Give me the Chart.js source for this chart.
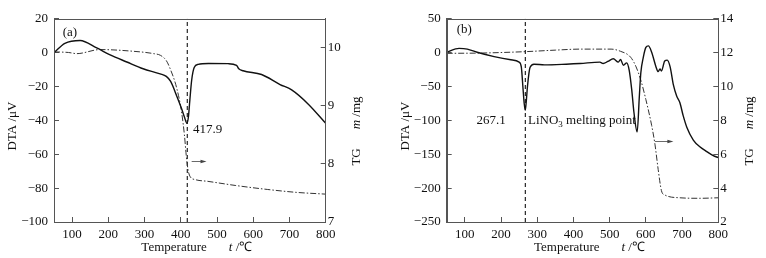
<!DOCTYPE html>
<html lang="en">
<head>
<meta charset="UTF-8">
<title>DTA / TG curves</title>
<script src="https://cdn.jsdelivr.net/npm/chart.js"></script>
<style>
  body { margin: 0; background: #fff; }
  .panel { position: absolute; top: 0; width: 383px; height: 258px; }
</style>
</head>
<body>
<div class="panel" style="left:0"><canvas id="chartA" width="383" height="258"></canvas></div>
<div class="panel" style="left:383px"><canvas id="chartB" width="383" height="258"></canvas></div>

<script>
// ---- data ----
const xTicks = [100, 200, 300, 400, 500, 600, 700, 800];

// (a)
const tempDtaA = [50, 80, 122, 168, 205, 251, 296, 343, 360, 372, 389, 402, 410, 417, 421, 425, 430, 437, 448, 476, 531, 554, 560, 572, 623, 674, 706, 752, 800];
const dtaA     = [0, 5.5, 7.2, 2.8, -1.3, -5.5, -9.5, -12.5, -14, -17, -25.7, -33, -38, -41.7, -38, -28, -16.3, -8.8, -6.9, -6.4, -6.5, -7.5, -9.5, -10.7, -12.9, -18.8, -22, -30.4, -41.7];
const tempTgA  = [50, 90, 113, 177, 270, 325, 344, 360, 370, 389, 402, 410, 415, 420, 426, 440, 475, 550, 640, 720, 800];
const tgA      = [9.93, 9.92, 9.9, 9.97, 9.94, 9.9, 9.87, 9.78, 9.65, 9.3, 8.9, 8.5, 8.15, 7.9, 7.78, 7.73, 7.7, 7.63, 7.56, 7.51, 7.48];
const meltA = 417.9;
const dtaTicksA = [-100, -80, -60, -40, -20, 0, 20];
const tgTicksA  = [7, 8, 9, 10];

// (b)
const tempDtaB = [50, 84, 107, 134, 181, 227, 250, 256, 261, 264, 267, 270, 273, 280, 291, 320, 380, 418, 473, 482, 495, 510, 524, 530, 538, 547, 554, 561, 567, 576, 582, 586, 593, 600, 607, 616, 628, 634, 639, 643, 652, 659, 667, 676, 685, 694, 703, 713, 731, 749, 768, 786, 800];
const dtaB     = [0.6, 6.3, 5.3, 0.6, -5.8, -10.5, -13.9, -21, -55, -75, -85, -70, -50, -22, -17, -18, -17, -16, -13.9, -16, -13, -9, -13.9, -10, -18.7, -15, -26, -55, -88, -117, -64, -30, -6.6, 7.8, 10, 0.6, -21, -28, -24, -27, -12.4, -11, -21, -47.6, -64, -74, -93, -110, -129, -139, -146, -152, -155];
const tempTgB  = [50, 150, 267, 350, 420, 504, 530, 558, 573, 586, 600, 616, 625, 634, 643, 652, 694, 750, 800];
const tgB      = [11.96, 11.98, 12.06, 12.15, 12.21, 12.21, 12.08, 11.73, 11.16, 10.38, 9.23, 7.7, 6.6, 5.1, 3.85, 3.6, 3.43, 3.4, 3.43];
const meltB = 267.1;
const dtaTicksB = [-250, -200, -150, -100, -50, 0, 50];
const tgTicksB  = [2, 4, 6, 8, 10, 12, 14];

const SERIF = "'Liberation Serif', 'Times New Roman', serif";
const INK = '#111';
const FRAME = '#555';

function pts(xs, ys) {
  return xs.map((x, i) => ({ x: x, y: ys[i] }));
}

function fmt(v) {
  return String(v).replace('-', '\u2212');
}

// draws a row of text pieces (mixed italic / subscript)
function drawRuns(ctx, runs, x, y, align) {
  const widths = runs.map(r => {
    if (r.gap) return r.gap;
    ctx.font = (r.italic ? 'italic ' : '') + (r.size || 13) + 'px ' + SERIF;
    return ctx.measureText(r.text).width;
  });
  const total = widths.reduce((a, b) => a + b, 0);
  let cx = align === 'center' ? x - total / 2 : align === 'right' ? x - total : x;
  runs.forEach((r, i) => {
    if (!r.gap) {
      ctx.font = (r.italic ? 'italic ' : '') + (r.size || 13) + 'px ' + SERIF;
      ctx.textAlign = 'left';
      ctx.fillText(r.text, cx, y + (r.dy || 0));
    }
    cx += widths[i];
  });
}

const decor = {
  id: 'decor',
  afterDatasetsDraw(chart, args, o) {
    const { ctx, chartArea: a, scales } = chart;
    const sx = scales.x;
    ctx.save();

    // frame
    ctx.strokeStyle = FRAME;
    ctx.lineWidth = 1;
    ctx.strokeRect(Math.round(a.left) + 0.5, Math.round(a.top) + 0.5,
                   Math.round(a.right - a.left) - 1, Math.round(a.bottom - a.top));

    ctx.fillStyle = INK;
    ctx.textBaseline = 'middle';

    // panel tag
    drawRuns(ctx, [{ text: o.tag }], sx.getPixelForValue(o.tagAt[0]), scales.yL.getPixelForValue(o.tagAt[1]), 'left');

    // notes
    o.notes.forEach(n => {
      drawRuns(ctx, n.runs, sx.getPixelForValue(n.x), scales.yL.getPixelForValue(n.y), n.align);
    });

    // arrow pointing to the TG axis
    const ar = o.arrow;
    const ay = Math.round(scales.yR.getPixelForValue(ar.y)) + 0.5;
    const ax1 = sx.getPixelForValue(ar.x1), ax2 = sx.getPixelForValue(ar.x2);
    ctx.strokeStyle = '#444';
    ctx.lineWidth = 0.8;
    ctx.beginPath();
    ctx.moveTo(ax1, ay);
    ctx.lineTo(ax2 - 4, ay);
    ctx.stroke();
    ctx.fillStyle = '#444';
    ctx.beginPath();
    ctx.moveTo(ax2, ay);
    ctx.lineTo(ax2 - 6, ay - 1.8);
    ctx.lineTo(ax2 - 6, ay + 1.8);
    ctx.closePath();
    ctx.fill();

    ctx.fillStyle = INK;
    // left title
    ctx.save();
    ctx.translate(a.left - 41, 126);
    ctx.rotate(-Math.PI / 2);
    drawRuns(ctx, [{ text: 'DTA /\u03bcV' }], 0, 0, 'center');
    ctx.restore();

    // right title (reads bottom to top)
    ctx.save();
    ctx.translate(a.right + 31, 131);
    ctx.rotate(-Math.PI / 2);
    drawRuns(ctx, [{ text: 'TG' }, { gap: 19 }, { text: 'm', italic: true }, { text: ' /mg' }], 0, 0, 'center');
    ctx.restore();

    // x title
    ctx.textBaseline = 'alphabetic';
    drawRuns(ctx, [{ text: 'Temperature' }, { gap: 22 }, { text: 't', italic: true }, { text: ' /\u2103' }],
             (a.left + a.right) / 2 + 7, a.bottom + 29, 'center');

    ctx.restore();
  }
};

const gridOpts = { drawOnChartArea: false, color: FRAME, tickLength: -5, tickWidth: 1 };
const borderOpts = { display: true, color: FRAME, width: 1 };
const tickFont = { family: SERIF, size: 13 };

function fixedTicks(list) {
  return s => { s.ticks = list.map(v => ({ value: v })); };
}

function buildChart(id, p) {
  return new Chart(document.getElementById(id), {
    type: 'line',
    data: {
      datasets: [
        {
          label: 'DTA', data: pts(p.tDta, p.dta), yAxisID: 'yL',
          borderColor: INK, borderWidth: 1.4, pointRadius: 0, cubicInterpolationMode: 'monotone'
        },
        {
          label: 'TG', data: pts(p.tTg, p.tg), yAxisID: 'yR',
          borderColor: '#333', borderWidth: 1, borderDash: [6, 2, 1.5, 2], pointRadius: 0, cubicInterpolationMode: 'monotone'
        },
        {
          label: 'melting', data: [{ x: p.melt, y: p.dtaTicks[0] }, { x: p.melt, y: p.dtaTicks[p.dtaTicks.length - 1] }],
          yAxisID: 'yL', borderColor: INK, borderWidth: 1.1, borderDash: [4, 3], pointRadius: 0
        }
      ]
    },
    options: {
      responsive: false,
      animation: false,
      devicePixelRatio: 1,
      layout: { padding: { top: 14, left: 0, right: 0, bottom: 0 } },
      plugins: { legend: { display: false }, tooltip: { enabled: false }, decor: p.decor },
      scales: {
        x: {
          type: 'linear', min: 50, max: 800,
          afterBuildTicks: fixedTicks(xTicks),
          afterFit: s => { s.height = 36; },
          grid: gridOpts, border: borderOpts,
          ticks: { font: tickFont, color: INK, padding: 9.5, maxRotation: 0 }
        },
        yL: {
          position: 'left', min: p.dtaTicks[0], max: p.dtaTicks[p.dtaTicks.length - 1],
          afterBuildTicks: fixedTicks(p.dtaTicks),
          afterFit: s => { s.width = p.leftW; },
          grid: gridOpts, border: borderOpts,
          ticks: { font: tickFont, color: INK, padding: 11, callback: fmt }
        },
        yR: {
          position: 'right', min: p.tgMin, max: p.tgMax,
          afterBuildTicks: fixedTicks(p.tgTicks),
          afterFit: s => { s.width = p.rightW; },
          grid: gridOpts, border: borderOpts,
          ticks: { font: tickFont, color: INK, padding: 7, callback: fmt }
        }
      }
    },
    plugins: [decor]
  });
}

buildChart('chartA', {
  tDta: tempDtaA, dta: dtaA, tTg: tempTgA, tg: tgA, melt: meltA,
  dtaTicks: dtaTicksA, tgTicks: tgTicksA, tgMin: 7, tgMax: 10.5,
  leftW: 54, rightW: 57.3,
  decor: {
    tag: '(a)', tagAt: [74, 11.8],
    notes: [{ runs: [{ text: '417.9' }], x: 434, y: -45.5, align: 'left' }],
    arrow: { x1: 430, x2: 471, y: 8.05 }
  }
});

buildChart('chartB', {
  tDta: tempDtaB, dta: dtaB, tTg: tempTgB, tg: tgB, melt: meltB,
  dtaTicks: dtaTicksB, tgTicks: tgTicksB, tgMin: 2, tgMax: 14,
  leftW: 63.7, rightW: 47.7,
  decor: {
    tag: '(b)', tagAt: [77.6, 34],
    notes: [
      { runs: [{ text: '267.1' }], x: 213, y: -100, align: 'right' },
      { runs: [{ text: 'LiNO' }, { text: '3', size: 9, dy: 4 }, { text: ' melting point' }], x: 274.5, y: -100, align: 'left' }
    ],
    arrow: { x1: 625, x2: 676, y: 6.8 }
  }
});
</script>
</body>
</html>
